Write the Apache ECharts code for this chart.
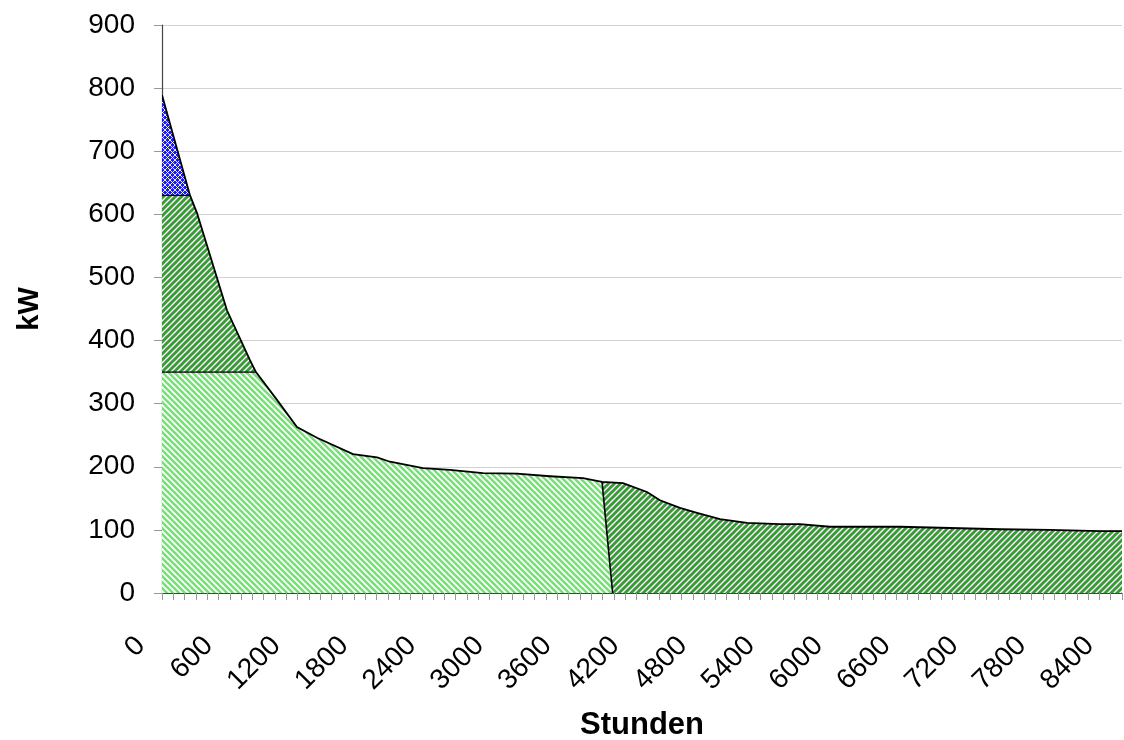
<!DOCTYPE html>
<html>
<head>
<meta charset="utf-8">
<script src="https://cdn.jsdelivr.net/npm/echarts@6/dist/echarts.min.js"></script>
<style>
html,body{margin:0;padding:0;background:#fff;}
#chart{width:1124px;height:740px;}
</style>
</head>
<body>
<div id="chart"></div>
<script>
// Load duration curve (kW over sorted hours)
const hours = [0, 248, 310, 575, 779, 832, 1018, 1195, 1372, 1691, 1904, 2019, 2311, 2550, 2842, 3143, 3435, 3728, 3896, 4082, 4294, 4409, 4586, 4737, 4941, 5180, 5472, 5649, 5915, 6534, 6977, 7420, 7862, 8305, 8500];
const kw    = [789, 630, 602, 448, 369, 350, 306, 263, 246, 220, 215, 208, 198, 195, 190, 189, 185, 182, 176, 174, 160, 147, 135, 127, 117, 111, 109, 109, 105, 105, 103, 101, 100, 98, 98];
const peakLevel = 630;      // peak-load band upper boundary
const baseLevel = 350;      // base-load band boundary
const splitTopHour = 3896;  // partition line, top (on curve)
const splitBottomHour = 3990; // partition line, bottom (at 0 kW)
const xMax = 8500;
const xTickStep = 100;
const xLabelStep = 600;
const yTicks = [0, 100, 200, 300, 400, 500, 600, 700, 800, 900];

function stripePattern(fg, dir, s, w) {
  const cv = document.createElement('canvas');
  cv.width = s; cv.height = s;
  const ctx = cv.getContext('2d');
  ctx.fillStyle = '#ffffff';
  ctx.fillRect(0, 0, s, s);
  ctx.strokeStyle = fg;
  ctx.lineWidth = w;
  ctx.lineCap = 'square';
  for (let k = -1; k <= 1; k++) {
    ctx.beginPath();
    if (dir === 'down') { ctx.moveTo(k * s, 0); ctx.lineTo(k * s + s, s); }
    else { ctx.moveTo(k * s, s); ctx.lineTo(k * s + s, 0); }
    ctx.stroke();
  }
  return { image: cv, repeat: 'repeat' };
}
function crossPattern(bg, s) {
  const cv = document.createElement('canvas');
  cv.width = s; cv.height = s;
  const ctx = cv.getContext('2d');
  ctx.fillStyle = bg;
  ctx.fillRect(0, 0, s, s);
  ctx.strokeStyle = '#ffffff';
  ctx.lineWidth = 0.9;
  for (let k = -1; k <= 1; k++) {
    ctx.beginPath(); ctx.moveTo(k * s, 0); ctx.lineTo(k * s + s, s); ctx.stroke();
    ctx.beginPath(); ctx.moveTo(k * s, s); ctx.lineTo(k * s + s, 0); ctx.stroke();
  }
  return { image: cv, repeat: 'repeat' };
}
const lightPat = stripePattern('#74e274', 'down', 6, 2.6);
const darkPat = stripePattern('#3a9a3a', 'up', 6, 3.0);
const bluePat = crossPattern('#1c1ce8', 5);

const pts = hours.map((h, i) => [h, kw[i]]);
const iPeak = kw.indexOf(peakLevel);
const iBase = kw.indexOf(baseLevel);
const iSplit = hours.indexOf(splitTopHour);

const chart = echarts.init(document.getElementById('chart'));
const font = 'Liberation Sans, Arial, sans-serif';
chart.setOption({
  animation: false,
  backgroundColor: '#ffffff',
  grid: { left: 162, right: 2, top: 25, bottom: 147, containLabel: false, outerBoundsMode: 'none' },
  xAxis: {
    type: 'value', min: 0, max: xMax, interval: xTickStep,
    name: 'Stunden', nameLocation: 'middle', nameGap: 117,
    nameTextStyle: { fontFamily: font, fontSize: 31, fontWeight: 'bold', color: '#000' },
    axisLine: { show: true, lineStyle: { color: '#444', width: 1.2 } },
    axisTick: { show: true, length: 7, lineStyle: { color: '#999' } },
    splitLine: { show: false },
    axisLabel: {
      rotate: 45, margin: 27, fontFamily: font, fontSize: 28, color: '#000',
      padding: [0, 30, 0, 0],
      formatter: v => (v % xLabelStep === 0 ? String(v) : '')
    }
  },
  yAxis: {
    type: 'value', min: yTicks[0], max: yTicks[yTicks.length - 1], interval: 100,
    name: 'kW', nameLocation: 'middle', nameGap: 118, nameRotate: 90,
    nameTextStyle: { fontFamily: font, fontSize: 29, fontWeight: 'bold', color: '#000' },
    axisLine: { show: true, lineStyle: { color: '#444', width: 1.2 } },
    axisTick: { show: true, length: 8, lineStyle: { color: '#999' } },
    splitLine: { show: true, lineStyle: { color: '#d2d2d2', width: 1 } },
    axisLabel: { margin: 27, fontFamily: font, fontSize: 28, color: '#000' }
  },
  series: [{
    type: 'custom',
    data: [[0, 0]],
    clip: true,
    renderItem: function (params, api) {
      const c = p => api.coord(p);
      const poly = (arr, fill) => ({ type: 'polygon', shape: { points: arr.map(c) }, style: { fill: fill, stroke: null } });
      const line = (arr, w) => ({ type: 'polyline', shape: { points: arr.map(c) }, style: { fill: null, stroke: '#000', lineWidth: w } });
      const blue = [[0, peakLevel]].concat(pts.slice(0, iPeak + 1));
      const darkUp = [[0, baseLevel], [0, peakLevel]].concat(pts.slice(iPeak, iBase + 1));
      const light = [[0, 0], [0, baseLevel]].concat(pts.slice(iBase, iSplit + 1), [[splitBottomHour, 0]]);
      const darkLow = [[splitBottomHour, 0]].concat(pts.slice(iSplit), [[xMax, 0]]);
      return {
        type: 'group',
        children: [
          poly(blue, bluePat),
          poly(darkUp, darkPat),
          poly(light, lightPat),
          poly(darkLow, darkPat),
          line([[0, peakLevel], pts[iPeak]], 1.3),
          line([[0, baseLevel], pts[iBase]], 1.3),
          line([pts[iSplit], [splitBottomHour, 0]], 1.6),
          line(pts, 1.8)
        ]
      };
    }
  }]
});
</script>
</body>
</html>
